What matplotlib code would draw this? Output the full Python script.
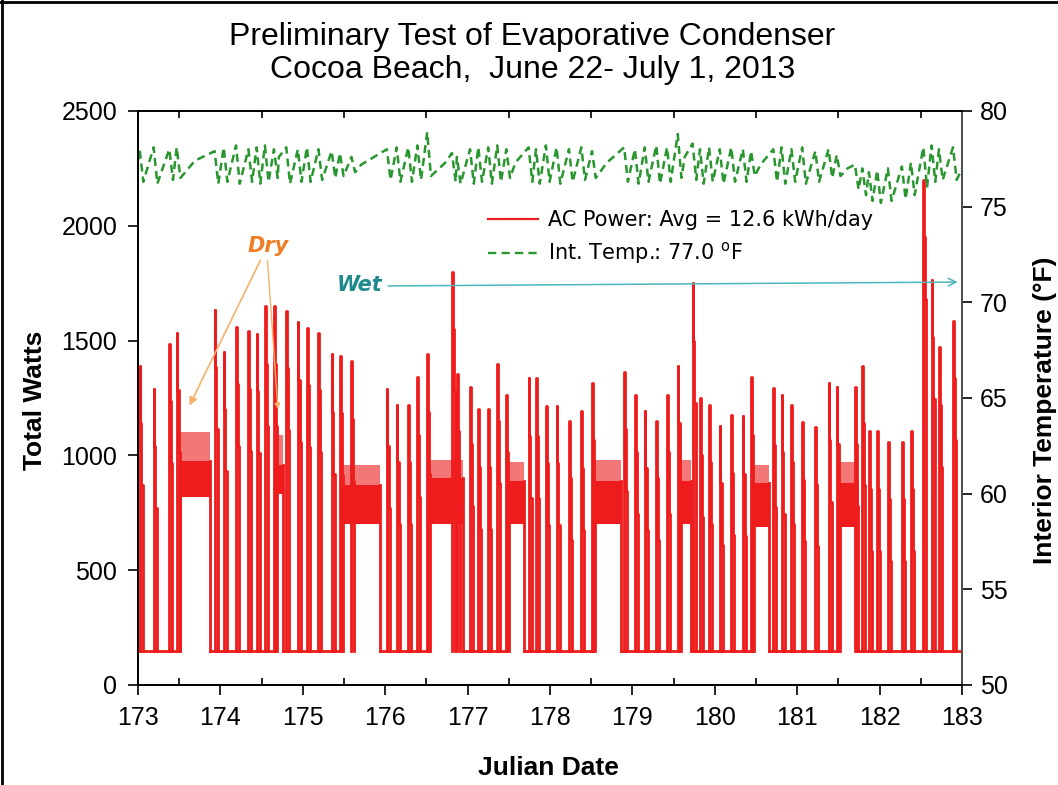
import matplotlib
matplotlib.use("Agg")
import matplotlib.pyplot as plt
import numpy as np
from matplotlib import font_manager
from matplotlib.lines import Line2D


def pick_family(*names):
    for name in names:
        try:
            font_manager.findfont(font_manager.FontProperties(family=name), fallback_to_default=False)
            return name
        except ValueError:
            continue
    return "DejaVu Sans"


NARROW = pick_family("Liberation Sans Narrow", "Liberation Sans")
ARIAL = pick_family("Liberation Sans", "DejaVu Sans")
plt.rcParams["mathtext.default"] = "regular"

X_MIN, X_MAX = 173, 183
BASE_W = 150          # standby draw between cycles
STEP1_DROP = 250      # first step down after the start-up spike (W)
STEP2_DROP = 520      # second step down before the unit shuts off (W)
HOLD_DAYS = 0.008
STEP_DAYS = 0.022
ON_DAYS = 0.036
TEMP_DROP_DAYS = 0.045

# compressor cycles: start day, start-up peak (W), room temp before / after the cycle (F)
cycle_start = [173.02, 173.19, 173.38, 173.47, 173.93, 174.04, 174.19, 174.34, 174.44, 174.54,
               174.65, 174.80, 174.94, 175.05, 175.19, 175.35, 175.45, 175.59, 176.02, 176.14,
               176.28, 176.39, 176.51, 176.81, 176.87, 177.03, 177.13, 177.25, 177.36, 177.47,
               177.74, 177.83, 177.95, 178.08, 178.23, 178.38, 178.51, 178.90, 179.03, 179.15,
               179.29, 179.42, 179.55, 179.73, 179.82, 179.93, 180.06, 180.20, 180.34, 180.44,
               180.71, 180.81, 180.93, 181.06, 181.22, 181.38, 181.48, 181.70, 181.79, 181.87,
               181.97, 182.10, 182.27, 182.38, 182.53, 182.63, 182.72, 182.89]
cycle_peak = [1390, 1290, 1485, 1535, 1635, 1450, 1560, 1540, 1530, 1650,
              1650, 1630, 1580, 1555, 1535, 1440, 1435, 1410, 1290, 1220,
              1220, 1340, 1440, 1800, 1355, 1300, 1200, 1200, 1400, 1265,
              1335, 1335, 1215, 1215, 1150, 1195, 1315, 1365, 1265, 1195,
              1150, 1265, 1390, 1750, 1250, 1220, 1130, 1175, 1170, 1340,
              1295, 1265, 1220, 1145, 1125, 1315, 1300, 1300, 1390, 1105,
              1105, 1060, 1060, 1105, 2200, 1765, 1470, 1585]
temp_hi = [78.0, 78.1, 78.0, 78.1, 77.9, 78.1, 78.2, 78.0, 78.1, 78.2,
           78.0, 78.1, 78.0, 78.1, 78.0, 77.9, 77.8, 77.6, 78.0, 78.1,
           78.1, 78.2, 78.9, 77.8, 77.6, 78.0, 78.1, 78.1, 78.2, 78.0,
           78.1, 78.0, 78.2, 78.1, 78.0, 78.1, 77.9, 78.1, 78.0, 78.1,
           78.2, 78.1, 78.8, 78.3, 78.0, 78.1, 78.0, 78.1, 78.0, 77.9,
           78.0, 78.1, 78.0, 78.1, 77.9, 78.0, 77.7, 77.2, 77.0, 76.8,
           76.9, 77.0, 77.1, 77.3, 78.1, 78.2, 78.0, 78.1]
temp_lo = [76.3, 76.2, 76.4, 76.5, 76.2, 76.3, 76.2, 76.3, 76.2, 76.3,
           76.5, 76.2, 76.3, 76.3, 76.4, 76.5, 76.6, 76.8, 76.4, 76.3,
           76.3, 76.4, 76.6, 76.3, 76.2, 76.2, 76.3, 76.2, 76.3, 76.5,
           76.3, 76.2, 76.3, 76.2, 76.3, 76.4, 76.5, 76.3, 76.2, 76.3,
           76.2, 76.3, 76.5, 76.4, 76.2, 76.3, 76.2, 76.3, 76.3, 76.6,
           76.3, 76.2, 76.3, 76.2, 76.3, 76.5, 76.6, 75.9, 75.6, 75.3,
           75.2, 75.3, 75.4, 75.6, 76.0, 76.3, 76.4, 76.4]
TEMP_START, TEMP_END = 77.4, 77.0

# periods of continuous running: start, end, band floor / body top / spike top (W), room temp (F)
band_start = [173.51, 174.66, 175.48, 176.52, 177.48, 178.52, 179.56, 180.45, 181.49]
band_end = [173.87, 174.76, 175.94, 176.94, 177.68, 178.86, 179.71, 180.66, 181.73]
band_low = [820, 830, 700, 700, 700, 700, 700, 690, 690]
band_mid = [975, 960, 870, 900, 890, 890, 890, 880, 880]
band_top = [1100, 1090, 960, 980, 970, 980, 980, 960, 970]
band_temp = [77.4, 77.6, 77.2, 77.3, 77.3, 77.3, 77.6, 77.2, 77.0]

RED = "#ee1c1c"
GREEN = "#2a9630"
LW_RED = 2.0

fig = plt.figure(figsize=(10.58, 7.85), dpi=100)
ax = fig.add_axes([0.1304, 0.1274, 0.7789, 0.7312])
ax2 = ax.twinx()

# standby baseline, broken where the unit ran continuously
bx, by = [X_MIN], [BASE_W]
for s, e in zip(band_start, band_end):
    bx += [s, np.nan, e]
    by += [BASE_W, np.nan, BASE_W]
bx.append(X_MAX)
by.append(BASE_W)
ax.plot(bx, by, color=RED, lw=LW_RED, zorder=3)

# start-up spikes of each cycle
sx, sy = [], []
for t, p in zip(cycle_start, cycle_peak):
    s1, s2 = p - STEP1_DROP, p - STEP2_DROP
    sx += [t, t, t + HOLD_DAYS, t + HOLD_DAYS, t + STEP_DAYS, t + STEP_DAYS, t + ON_DAYS, t + ON_DAYS, np.nan]
    sy += [BASE_W, p, p, s1, s1, s2, s2, BASE_W, np.nan]
    ax.fill_between([t, t + ON_DAYS], BASE_W, s2, color=RED, alpha=0.45, lw=0, zorder=2)
ax.plot(sx, sy, color=RED, lw=LW_RED, zorder=3)

# continuous-run bands
for s, e, lo, mid, top in zip(band_start, band_end, band_low, band_mid, band_top):
    ax.fill_between([s, e], lo, mid, color=RED, lw=0, zorder=2)
    ax.fill_between([s, e], mid, top, color=RED, alpha=0.6, lw=0, zorder=2)
    ax.plot([s, s, np.nan, e, e], [BASE_W, mid, np.nan, mid, BASE_W], color=RED, lw=LW_RED, zorder=3)

# interior temperature
pts = [(X_MIN, TEMP_START), (X_MAX, TEMP_END)]
for t, hi, lo in zip(cycle_start, temp_hi, temp_lo):
    pts += [(t, hi), (t + TEMP_DROP_DAYS, lo)]
for s, e, tb in zip(band_start, band_end, band_temp):
    pts.append(((s + e) / 2, tb))
pts.sort()
tx, ty = zip(*pts)
ax2.plot(tx, ty, color=GREEN, lw=1.8, ls=(0, (3.2, 2.0)))

ax.set_xlim(X_MIN, X_MAX)
ax.set_ylim(0, 2500)
ax2.set_ylim(50, 80)
ax.set_xticks(range(X_MIN, X_MAX + 1))
ax.set_xticks(np.arange(X_MIN + 0.5, X_MAX, 1.0), minor=True)
ax.set_yticks(range(0, 2501, 500))
ax2.set_yticks(range(50, 81, 5))

ax.tick_params(axis="x", which="major", direction="out", length=7, width=1.2, pad=8,
               labelsize=18, top=False)
ax.tick_params(axis="x", which="minor", direction="in", length=5, width=1.2, top=True)
ax.tick_params(axis="y", which="major", direction="out", length=7, width=1.2, pad=8, labelsize=18)
ax2.tick_params(axis="y", which="major", direction="out", length=7, width=1.2, pad=6, labelsize=18)
for a in (ax, ax2):
    for lab in a.get_xticklabels() + a.get_yticklabels():
        lab.set_family(NARROW)
    for sp in a.spines.values():
        sp.set_linewidth(1.3)
ax2.spines["right"].set_color("#555555")

# annotations
ann_c = "#f5b06a"
ax.text(174.58, 1910, "Dry", color="#f07c24", fontsize=15, fontweight="bold", fontstyle="italic",
        ha="center", va="center")
ax.annotate("", xy=(173.61, 1206), xytext=(174.50, 1860),
            arrowprops=dict(arrowstyle="-|>", color=ann_c, lw=1.2, mutation_scale=12))
ax.annotate("", xy=(174.70, 1189), xytext=(174.57, 1860),
            arrowprops=dict(arrowstyle="-|>", color=ann_c, lw=1.0, mutation_scale=8))
ax.text(175.69, 1742, "Wet", color="#1e8a8e", fontsize=15, fontweight="bold", fontstyle="italic",
        ha="center", va="center")
ax.annotate("", xy=(182.98, 1755), xytext=(176.0, 1738),
            arrowprops=dict(arrowstyle="->", color="#4cb8bc", lw=1.1, mutation_scale=14))

handles = [Line2D([], [], color=RED, lw=1.6),
           Line2D([], [], color=GREEN, lw=1.7, ls=(0, (3.5, 2.2)))]
labels = ["AC Power: Avg = 12.6 kWh/day", r"Int. Temp.: 77.0 $^{o}$F"]
ax.legend(handles, labels, loc="upper left", bbox_to_anchor=(0.4248, 0.8275), frameon=False,
          fontsize=15, handlelength=2.4, handletextpad=0.5, labelspacing=0.5, borderpad=0,
          borderaxespad=0)

fig.text(0.503, 1 - 37 / 785, "Preliminary Test of Evaporative Condenser", ha="center", va="center",
         fontsize=23, family=NARROW)
fig.text(0.503, 1 - 70 / 785, "Cocoa Beach,  June 22- July 1, 2013", ha="center", va="center",
         fontsize=23, family=NARROW)
fig.text(35 / 1058, 1 - 400 / 785, "Total Watts", rotation=90, ha="center", va="center",
         fontsize=19, fontweight="bold", family=ARIAL)
fig.text(548 / 1058, 1 - 768 / 785, "Julian Date", ha="center", va="center",
         fontsize=19, fontweight="bold", family=ARIAL)
fig.text(1045 / 1058, 1 - 410 / 785, "Interior Temperature (\u00b0F)", rotation=90, ha="center",
         va="center", fontsize=19, fontweight="bold", family=ARIAL)

fig.add_artist(Line2D([0.0015, 0.0015], [0, 1], transform=fig.transFigure, color="black", lw=2))
fig.add_artist(Line2D([0, 1], [0.998, 0.998], transform=fig.transFigure, color="black", lw=2))

fig.savefig("out.png", dpi=100)
